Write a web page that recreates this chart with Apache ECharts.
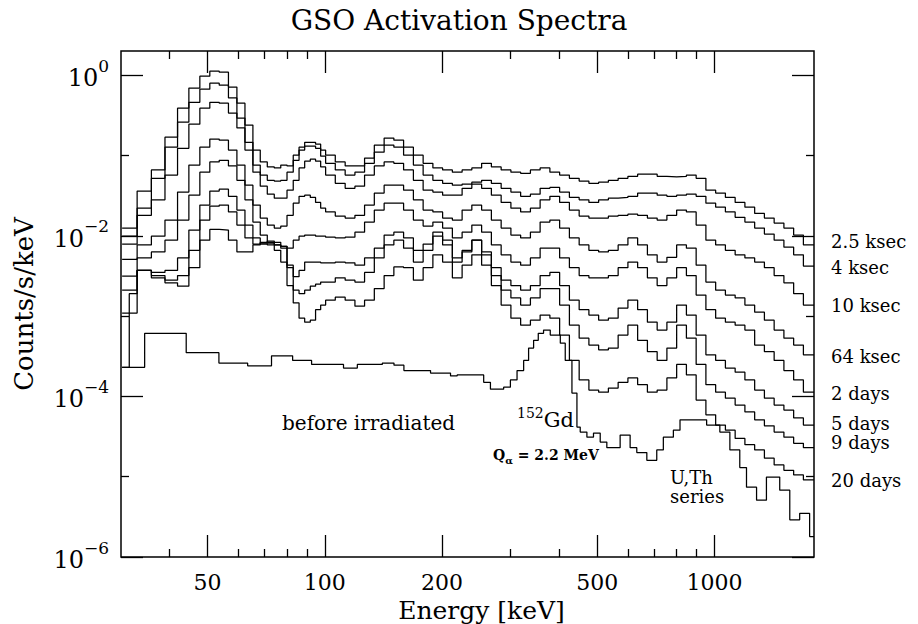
<!DOCTYPE html>
<html><head><meta charset="utf-8">
<script src="https://cdn.jsdelivr.net/npm/echarts@6/dist/echarts.min.js"></script>
<style>html,body{margin:0;padding:0;background:#fff}#c{width:918px;height:624px}</style>
</head><body><div id="c"></div>
<script>
// ---------- data ----------
// bin edges (keV) shared by the activated spectra
const energyEdges = [30.2, 31.5, 33.0, 35.9, 38.9, 41.9, 44.8, 47.8, 50.7, 53.6, 56.6, 59.5, 62.4, 65.4, 68.3, 71.2, 74.2, 77.1, 80.0, 83.0, 85.9, 88.8, 91.8, 94.7, 97.6, 100.5,
  106.4, 112.8, 119.5, 126.5, 134.0, 142.0, 150.4, 159.3, 168.8, 178.8, 189.4, 200.6, 212.5, 225.1, 238.4, 252.6, 267.6, 283.5, 300.3, 318.1,
  337.0, 356.9, 378.1, 400.5, 424.3, 449.5, 476.1, 504.3, 534.2, 565.9, 599.5, 635.0, 672.7, 712.6, 754.8, 799.6, 847.0, 897.2, 950.4, 1006.8,
  1066.5, 1129.7, 1196.7, 1267.7, 1342.8, 1422.4, 1506.8, 1596.1, 1690.7, 1800];

const spec2_5ksec = [0.0125, 0.0125, 0.036, 0.066, 0.169, 0.388, 0.69, 0.97, 1.12, 1.09, 0.71, 0.448, 0.239, 0.117, 0.083, 0.072, 0.070, 0.076, 0.074, 0.101, 0.127, 0.146, 0.146, 0.138, 0.117,
  0.101, 0.083, 0.074, 0.074, 0.093, 0.135, 0.165, 0.155, 0.127, 0.101, 0.080, 0.070, 0.066, 0.062, 0.066, 0.070, 0.080, 0.072, 0.066, 0.062,
  0.060, 0.066, 0.070, 0.062, 0.057, 0.052, 0.048, 0.045, 0.0465, 0.049, 0.052, 0.055, 0.0585, 0.0585, 0.055, 0.054, 0.055, 0.057, 0.052, 0.037,
  0.034, 0.030, 0.026, 0.0227, 0.019, 0.0166, 0.0144, 0.0125, 0.0102, 0.0077];
const spec4ksec = [0.0099, 0.0099, 0.0221, 0.052, 0.127, 0.26, 0.46, 0.67, 0.795, 0.75, 0.52, 0.292, 0.146, 0.076, 0.057, 0.049, 0.048, 0.049, 0.062, 0.087, 0.117, 0.131, 0.131, 0.123, 0.098,
  0.080, 0.066, 0.057, 0.062, 0.080, 0.11, 0.135, 0.127, 0.101, 0.076, 0.057, 0.049, 0.045, 0.0427, 0.044, 0.0465, 0.049, 0.045, 0.039, 0.035,
  0.031, 0.033, 0.039, 0.040, 0.035, 0.030, 0.028, 0.026, 0.028, 0.0294, 0.030, 0.031, 0.034, 0.034, 0.032, 0.031, 0.032, 0.033, 0.031, 0.0255,
  0.0227, 0.0198, 0.017, 0.0148, 0.0125, 0.0105, 0.0088, 0.0072, 0.0058, 0.0042];
const spec10ksec = [0.0079, 0.0079, 0.018, 0.028, 0.057, 0.123, 0.245, 0.388, 0.46, 0.448, 0.337, 0.22, 0.117, 0.062, 0.0415, 0.033, 0.0294, 0.0294, 0.037, 0.049, 0.070, 0.085, 0.090, 0.085, 0.072,
  0.057, 0.045, 0.039, 0.0415, 0.057, 0.074, 0.083, 0.080, 0.066, 0.049, 0.037, 0.035, 0.032, 0.032, 0.039, 0.044, 0.039, 0.032, 0.026, 0.0221,
  0.0198, 0.0221, 0.028, 0.031, 0.026, 0.0209, 0.0176, 0.0166, 0.0166, 0.0176, 0.018, 0.0186, 0.018, 0.0166, 0.0157, 0.018, 0.0209, 0.0198, 0.0136, 0.0088,
  0.0077, 0.0066, 0.0058, 0.0053, 0.0047, 0.0040, 0.0032, 0.0026, 0.0019, 0.00137];
const spec64ksec = [0.0051, 0.0051, 0.0077, 0.0099, 0.0157, 0.035, 0.076, 0.127, 0.16, 0.155, 0.117, 0.076, 0.0427, 0.0241, 0.0166, 0.0136, 0.0125, 0.0132, 0.018, 0.0255, 0.031, 0.032, 0.030, 0.026, 0.0221,
  0.0198, 0.0176, 0.0166, 0.018, 0.0241, 0.034, 0.0427, 0.0427, 0.037, 0.028, 0.0209, 0.0198, 0.0166, 0.0157, 0.0209, 0.0241, 0.0209, 0.0157, 0.0125, 0.0102,
  0.0094, 0.0111, 0.0148, 0.0157, 0.0125, 0.0094, 0.0077, 0.0066, 0.0063, 0.0066, 0.0077, 0.0094, 0.0077, 0.0058, 0.0047, 0.0054, 0.0077, 0.0070, 0.0043, 0.00265,
  0.0021, 0.00183, 0.00168, 0.00137, 0.00112, 0.00089, 0.00067, 0.00053, 0.000435, 0.00033];
const spec2days = [0.00315, 0.00315, 0.0053, 0.0063, 0.0088, 0.0157, 0.032, 0.062, 0.083, 0.087, 0.074, 0.049, 0.028, 0.0148, 0.0102, 0.0083, 0.0077, 0.0074, 0.0070, 0.0088, 0.0099, 0.0102, 0.0102, 0.0099, 0.0099,
  0.0096, 0.0094, 0.0096, 0.0111, 0.0148, 0.0209, 0.0255, 0.0255, 0.0209, 0.0157, 0.0132, 0.0148, 0.0125, 0.0094, 0.0111, 0.0136, 0.0111, 0.0077, 0.0058, 0.0047,
  0.0043, 0.0053, 0.0070, 0.0070, 0.0053, 0.0040, 0.0032, 0.0030, 0.0030, 0.0032, 0.0040, 0.0047, 0.0040, 0.0030, 0.0024, 0.0030, 0.0040, 0.0032, 0.00183, 0.0012,
  0.00094, 0.00084, 0.00077, 0.00067, 0.000435, 0.00036, 0.00028, 0.00021, 0.00016, 0.000113];
const spec5days = [0.0021, 0.0021, 0.0037, 0.0035, 0.0037, 0.0053, 0.0118, 0.0241, 0.036, 0.038, 0.031, 0.0209, 0.0136, 0.0094, 0.0079, 0.0077, 0.0077, 0.0074, 0.0043, 0.0031, 0.0037, 0.0047, 0.0047, 0.0047, 0.0046,
  0.0046, 0.0047, 0.0046, 0.0043, 0.0053, 0.0070, 0.0102, 0.0111, 0.0094, 0.0066, 0.0079, 0.0111, 0.0088, 0.0053, 0.0066, 0.0088, 0.0063, 0.0040, 0.0028, 0.0024,
  0.0021, 0.0024, 0.0032, 0.0035, 0.0024, 0.00158, 0.0012, 0.00103, 0.00089, 0.00094, 0.00126, 0.00158, 0.0012, 0.00084, 0.00067, 0.00084, 0.00137, 0.00103, 0.00058, 0.00033,
  0.00028, 0.000225, 0.0002, 0.00016, 0.00012, 0.000095, 0.000078, 0.0000675, 0.000054, 0.000044];
const spec9days = [0.00109, 0.00109, 0.0037, 0.0030, 0.0028, 0.0032, 0.0066, 0.0157, 0.0234, 0.0241, 0.0198, 0.0136, 0.0094, 0.0079, 0.0081, 0.0086, 0.0083, 0.0070, 0.0040, 0.0021, 0.0019, 0.0021, 0.00236, 0.0025, 0.00265,
  0.00265, 0.0030, 0.0028, 0.00265, 0.0035, 0.0053, 0.0077, 0.0088, 0.0070, 0.0047, 0.0066, 0.0099, 0.0077, 0.0047, 0.0063, 0.0088, 0.0058, 0.0032, 0.0021, 0.00168,
  0.00137, 0.00168, 0.0022, 0.0022, 0.00137, 0.00077, 0.00053, 0.000435, 0.00038, 0.0004, 0.00058, 0.00077, 0.0005, 0.00036, 0.00028, 0.0004, 0.00077, 0.00053, 0.00025, 0.00014,
  0.000113, 0.000095, 0.000078, 0.000064, 0.000051, 0.000043, 0.000036, 0.000031, 0.000026, 0.000023];
const spec20days = [0.00023, 0.0019, 0.0037, 0.0032, 0.0026, 0.00236, 0.0040, 0.0088, 0.0120, 0.0118, 0.0088, 0.0063, 0.0063, 0.0077, 0.0083, 0.0081, 0.0066, 0.0047, 0.0024, 0.00146, 0.00094, 0.00084, 0.00089, 0.0012, 0.00137,
  0.00158, 0.00172, 0.00158, 0.00133, 0.00158, 0.0022, 0.0032, 0.0041, 0.0040, 0.0028, 0.0040, 0.0058, 0.0047, 0.0030, 0.0043, 0.0058, 0.0043, 0.0024, 0.00137, 0.00094,
  0.00077, 0.00089, 0.00103, 0.00094, 0.00058, 0.00028, 0.00016, 0.00012, 0.000113, 0.000127, 0.00015, 0.00017, 0.00014, 0.000113, 0.00012, 0.00017, 0.00025, 0.000185, 0.00009, 0.000059,
  0.000044, 0.000038, 0.00003, 0.000025, 0.0000215, 0.000017, 0.000014, 0.000012, 0.0000105, 0.0000091];

// background spectrum (before irradiation), its own coarser bins
const bgEdges = [30.2, 34.5, 44.1, 53.5, 63.4, 73.0, 82.7, 92.5, 111.7, 121.2, 140.5, 150.5, 159.6, 186.8, 210.2, 218.6, 255.7, 266.1, 287.7, 299.4,
  311.4, 323.8, 333.4, 343.4, 353, 364.2, 378.9, 402.1, 414.0, 430.7, 443.6, 452.3, 470.5, 489.2, 509, 529.3, 572.6, 607.4, 631.8, 670.4,
  710.9, 739.1, 784.2, 815.6, 954.5, 1032, 1095, 1161, 1208, 1282, 1359, 1470, 1560, 1654, 1754, 1800];
const specBefore = [2.3e-4, 6.1e-4, 3.5e-4, 2.6e-4, 2.4e-4, 3.2e-4, 2.8e-4, 2.5e-4, 2.25e-4, 2.5e-4, 2.6e-4, 2.45e-4, 2.1e-4, 1.95e-4, 1.8e-4, 1.85e-4, 1.5e-4, 1.23e-4, 1.3e-4, 1.6e-4,
  2.1e-4, 2.8e-4, 4.0e-4, 5.0e-4, 6.1e-4, 6.7e-4, 5.8e-4, 4.6e-4, 2.8e-4, 1.1e-4, 4.15e-5, 3.6e-5, 3.1e-5, 3.5e-5, 2.7e-5, 2.3e-5, 3.3e-5, 2.3e-5, 2.0e-5, 1.6e-5,
  2.15e-5, 3.1e-5, 3.8e-5, 5.1e-5, 4.4e-5, 3.6e-5, 2.15e-5, 1.3e-5, 7.4e-6, 5.1e-6, 9.9e-6, 6.8e-6, 2.9e-6, 3.5e-6, 1.8e-6];

const seriesLabels = ['2.5 ksec', '4 ksec', '10 ksec', '64 ksec', '2 days', '5 days', '9 days', '20 days'];
const activated = [spec2_5ksec, spec4ksec, spec10ksec, spec64ksec, spec2days, spec5days, spec9days, spec20days];

// axis ticks
const xMajorTicks = [50, 100, 200, 500, 1000];
const xMajorLabels = ['50', '100', '200', '500', '1000'];
const xMinorTicks = [40, 60, 70, 80, 90, 300, 400, 600, 700, 800, 900];
const yMajorExponents = [0, -2, -4, -6];
const yMinorExponents = [-1, -3, -5];
const xRange = [30, 1800];
const yRange = [1e-6, 2];

// ---------- chart ----------
const FONT = 'DejaVu Serif';
const chart = echarts.init(document.getElementById('c'), null, {renderer: 'svg'});

function histogram(edges, vals) {
  const pts = vals.map((v, i) => [edges[i], v]);
  pts.push([edges[vals.length], vals[vals.length - 1]]);
  return pts;
}

const lx = xRange.map(Math.log10);
const ly = yRange.map(Math.log10);
const lxMajor = xMajorTicks.map(Math.log10);
const lxMinor = xMinorTicks.map(Math.log10);

function xHelper(pos, ticks, len, labels) {
  return {
    type: 'value', position: pos, min: lx[0], max: lx[1],
    axisLine: {show: false, onZero: false},
    splitLine: {show: false},
    axisTick: {show: true, inside: true, length: len, customValues: ticks, lineStyle: {color: '#000', width: 1.3}},
    axisLabel: labels ? {
      show: true, customValues: ticks, margin: 14, color: '#000', fontFamily: FONT, fontSize: 22,
      formatter: v => { const i = lxMajor.findIndex(t => Math.abs(t - v) < 1e-6); return i >= 0 ? xMajorLabels[i] : ''; }
    } : {show: false}
  };
}
function yHelper(pos, ticks, len, labels) {
  return {
    type: 'value', position: pos, min: -6, max: ly[1],
    axisLine: {show: false, onZero: false},
    splitLine: {show: false},
    axisTick: {show: true, inside: true, length: len, customValues: ticks, lineStyle: {color: '#000', width: 1.3}},
    axisLabel: labels ? {
      show: true, customValues: ticks, margin: 12, color: '#000', fontFamily: FONT,
      formatter: v => { const e = Math.round(v); return '{b|10}{s|' + (e === 0 ? '0' : '\u2212' + (-e)) + '}'; },
      rich: {
        b: {fontFamily: FONT, fontSize: 24, lineHeight: 36, verticalAlign: 'middle', color: '#000', padding: [6, 0, 0, 0]},
        s: {fontFamily: FONT, fontSize: 17, lineHeight: 17, verticalAlign: 'top', color: '#000'}
      }
    } : {show: false}
  };
}

const xAxes = [
  {type: 'log', logBase: 10, min: xRange[0], max: xRange[1], show: false},
  Object.assign(xHelper('bottom', lxMajor, 22, true), {
    name: 'Energy [keV]', nameLocation: 'middle', nameGap: 35,
    nameTextStyle: {fontFamily: FONT, fontSize: 25, color: '#000', padding: [0, 0, 0, 28]}
  }),
  xHelper('bottom', lxMinor, 8, false),
  xHelper('top', lxMajor, 22, false),
  xHelper('top', lxMinor, 8, false)
];
const yAxes = [
  {type: 'log', logBase: 10, min: yRange[0], max: yRange[1], show: false},
  Object.assign(yHelper('left', yMajorExponents, 22, true), {
    name: 'Counts/s/keV', nameLocation: 'middle', nameGap: 84,
    nameTextStyle: {fontFamily: FONT, fontSize: 26, color: '#000'}
  }),
  yHelper('left', yMinorExponents, 8, false),
  yHelper('right', yMajorExponents, 22, false),
  yHelper('right', yMinorExponents, 8, false)
];

const lineSeries = activated.map((vals, i) => ({
  name: seriesLabels[i], type: 'line', step: 'end', xAxisIndex: 0, yAxisIndex: 0,
  data: histogram(energyEdges, vals), showSymbol: false, symbol: 'none', silent: true,
  lineStyle: {color: '#000', width: 1.25}, clip: true
}));
lineSeries.push({
  name: 'before irradiated', type: 'line', step: 'end', xAxisIndex: 0, yAxisIndex: 0,
  data: histogram(bgEdges, specBefore), showSymbol: false, symbol: 'none', silent: true,
  lineStyle: {color: '#000', width: 1.25}, clip: true
});

const labelY = [241, 267, 305, 356, 393, 423, 442, 480];
const txt = (x, y, text, size, extra) => ({type: 'text', x, y, silent: true,
  style: Object.assign({text, fontFamily: FONT, fontSize: size, fill: '#000', verticalAlign: 'middle'}, extra || {})});

const graphics = seriesLabels.map((s, i) => txt(831, labelY[i], s, 18));
graphics.push(txt(282, 423, 'before irradiated', 20));
graphics.push({type: 'text', x: 517, y: 420, silent: true, style: {
  text: '{s|152}{b|Gd}', verticalAlign: 'middle', fill: '#000',
  rich: {s: {fontFamily: FONT, fontSize: 14, lineHeight: 14, verticalAlign: 'top', fill: '#000'},
         b: {fontFamily: FONT, fontSize: 21, lineHeight: 28, verticalAlign: 'middle', fill: '#000'}}}});
graphics.push({type: 'text', x: 493, y: 455, silent: true, style: {
  text: '{b|Q}{a|\u03b1}{b| = 2.2 MeV}', verticalAlign: 'middle', fill: '#000',
  rich: {b: {fontFamily: FONT, fontSize: 14, fontWeight: 'bold', lineHeight: 20, verticalAlign: 'middle', fill: '#000'},
         a: {fontFamily: FONT, fontSize: 10, fontWeight: 'bold', lineHeight: 10, verticalAlign: 'bottom', fill: '#000'}}}});
graphics.push(txt(670, 477, 'U,Th', 18));
graphics.push(txt(670, 496, 'series', 18));

chart.setOption({
  animation: false,
  backgroundColor: '#fff',
  title: {text: 'GSO Activation Spectra', left: 'center', top: 1,
    textStyle: {fontFamily: FONT, fontSize: 28, fontWeight: 'normal', color: '#000'}},
  grid: {left: 121, right: 104, top: 51, bottom: 67, show: true, borderColor: '#000', borderWidth: 1.5,
    backgroundColor: 'transparent', containLabel: false, outerBoundsMode: 'none'},
  xAxis: xAxes,
  yAxis: yAxes,
  series: lineSeries,
  graphic: graphics
});
</script>
</body></html>
